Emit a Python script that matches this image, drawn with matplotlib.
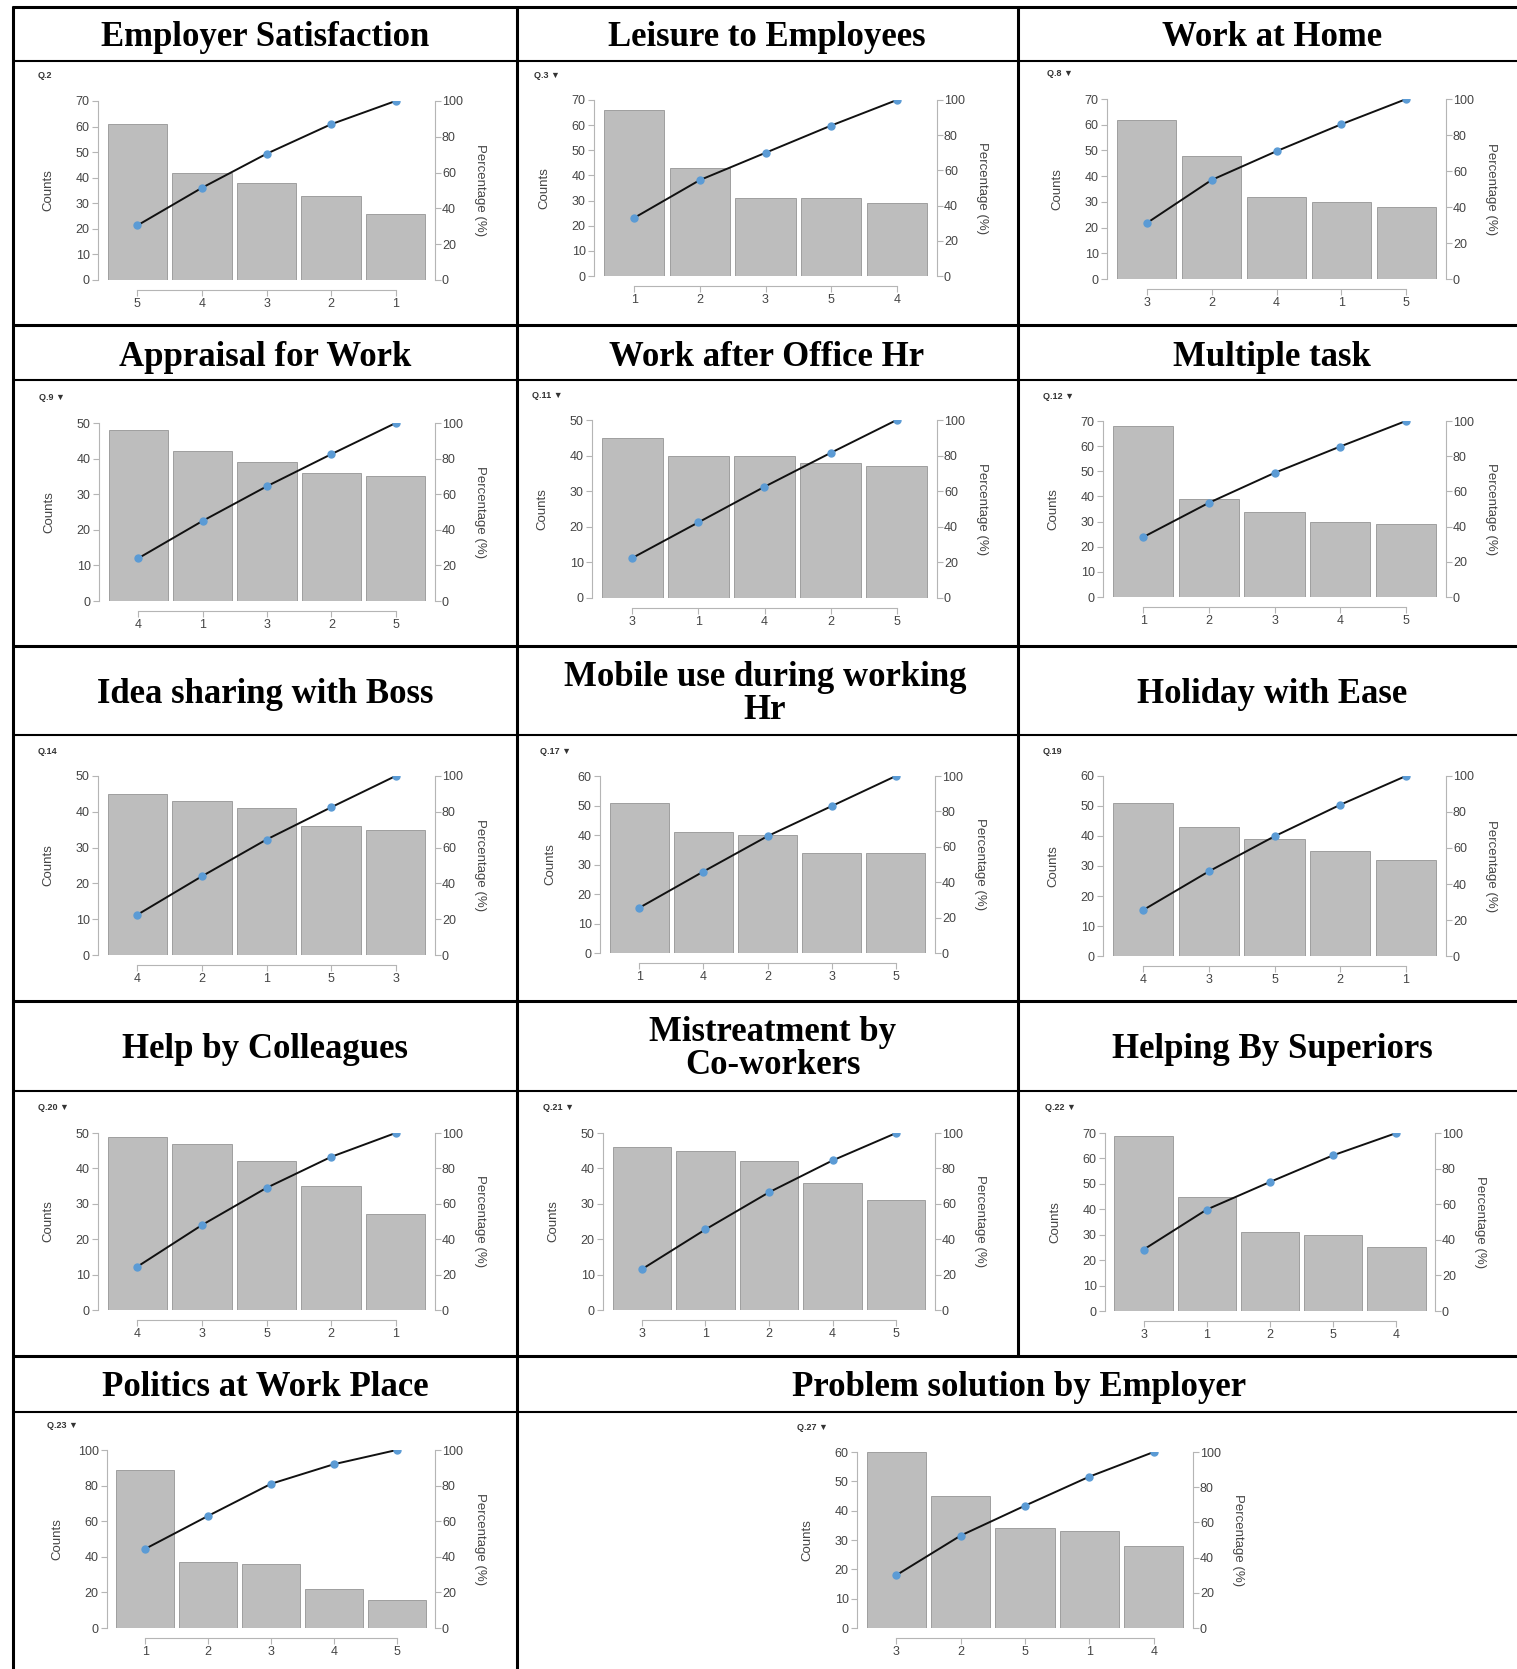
import numpy as np
import matplotlib.pyplot as plt
from matplotlib.lines import Line2D

plt.rcParams['font.family'] = ['Liberation Sans', 'DejaVu Sans']

W, H = 1517, 1669

### survey data: answer order and counts for each question (Pareto order)
titles = ["Employer Satisfaction", "Leisure to Employees", "Work at Home",
          "Appraisal for Work", "Work after Office Hr", "Multiple task",
          "Idea sharing with Boss", "Mobile use during working\nHr", "Holiday with Ease",
          "Help by Colleagues", "Mistreatment by\nCo-workers", "Helping By Superiors",
          "Politics at Work Place", "Problem solution by Employer"]
questions = ["Q.2", "Q.3 \u25bc", "Q.8 \u25bc", "Q.9 \u25bc", "Q.11 \u25bc", "Q.12 \u25bc",
             "Q.14", "Q.17 \u25bc", "Q.19", "Q.20 \u25bc", "Q.21 \u25bc", "Q.22 \u25bc",
             "Q.23 \u25bc", "Q.27 \u25bc"]
answers = [["5", "4", "3", "2", "1"], ["1", "2", "3", "5", "4"], ["3", "2", "4", "1", "5"],
           ["4", "1", "3", "2", "5"], ["3", "1", "4", "2", "5"], ["1", "2", "3", "4", "5"],
           ["4", "2", "1", "5", "3"], ["1", "4", "2", "3", "5"], ["4", "3", "5", "2", "1"],
           ["4", "3", "5", "2", "1"], ["3", "1", "2", "4", "5"], ["3", "1", "2", "5", "4"],
           ["1", "2", "3", "4", "5"], ["3", "2", "5", "1", "4"]]
counts = [[61, 42, 38, 33, 26], [66, 43, 31, 31, 29], [62, 48, 32, 30, 28],
          [48, 42, 39, 36, 35], [45, 40, 40, 38, 37], [68, 39, 34, 30, 29],
          [45, 43, 41, 36, 35], [51, 41, 40, 34, 34], [51, 43, 39, 35, 32],
          [49, 47, 42, 35, 27], [46, 45, 42, 36, 31], [69, 45, 31, 30, 25],
          [89, 37, 36, 22, 16], [60, 45, 34, 33, 28]]
count_max = [70, 70, 70, 50, 50, 70, 50, 60, 60, 50, 50, 70, 100, 60]

### layout in pixels
# plot boxes: left, right, top, zero line
boxes = [(98, 435, 101, 280), (594, 937, 100, 276), (1107, 1446, 99, 279),
         (99, 435, 423, 601), (592, 937, 420, 598), (1103, 1446, 421, 597),
         (98, 435, 776, 955), (600, 935, 776, 953), (1103, 1446, 776, 956),
         (98, 435, 1133, 1310), (603, 935, 1133, 1310), (1105, 1435, 1133, 1311),
         (107, 435, 1450, 1628), (857, 1193, 1452, 1628)]
# title centres
title_xy = [(265, 38), (767, 38), (1272, 38),
            (265, 357), (767, 357), (1272, 357),
            (265, 694), (765, 694), (1272, 694),
            (265, 1049), (773, 1049), (1272, 1049),
            (265, 1388), (1019, 1388)]

fig = plt.figure(figsize=(W / 100, H / 100), dpi=100)
fig.patch.set_facecolor('white')


def fx(x):
    return x / W


def fy(y):
    return 1 - y / H


def hline(y, x0, x1, lw):
    fig.add_artist(Line2D([fx(x0), fx(x1)], [fy(y), fy(y)], transform=fig.transFigure,
                          color='black', lw=lw, solid_capstyle='butt'))


def vline(x, y0, y1, lw):
    fig.add_artist(Line2D([fx(x), fx(x)], [fy(y0), fy(y1)], transform=fig.transFigure,
                          color='black', lw=lw, solid_capstyle='butt'))


# table grid
for y in [7, 325, 646, 1001, 1356]:
    hline(y, 12, W, 2.2)
for y in [61, 380, 735, 1091, 1412]:
    hline(y, 12, W, 1.5)
vline(13, 6, H, 2.2)
vline(517, 6, H, 2.2)
vline(1018, 6, 1356, 2.2)

tick_col = '#444444'
spine_col = '#b5b5b5'

for i in range(len(titles)):
    L, R, T, B = boxes[i]
    ax = fig.add_axes([fx(L), fy(B), (R - L) / W, (B - T) / H])
    x = np.arange(len(answers[i]))
    vals = np.array(counts[i])
    cum = np.cumsum(vals) / vals.sum() * 100

    ax.bar(x, vals, width=0.92, color='#bdbdbd', edgecolor='#959595', linewidth=0.6)
    ax.set_xlim(-0.61, 4.61)
    ax.set_ylim(0, count_max[i])
    ax.set_yticks(np.arange(0, count_max[i] + 1, 20 if count_max[i] == 100 else 10))
    ax.set_xticks(x)
    ax.set_xticklabels(answers[i])
    for s in ['top', 'right']:
        ax.spines[s].set_visible(False)
    ax.spines['bottom'].set_position(('outward', 7.2))
    ax.spines['bottom'].set_bounds(0, 4)
    ax.spines['left'].set_bounds(0, count_max[i])
    for s in ['bottom', 'left']:
        ax.spines[s].set_color(spine_col)
        ax.spines[s].set_linewidth(0.8)
    ax.tick_params(colors=spine_col, labelcolor=tick_col, labelsize=9, length=4, width=0.8, pad=2)

    ax2 = ax.twinx()
    ax2.set_ylim(0, 100)
    ax2.set_yticks(np.arange(0, 101, 20))
    for s in ['top', 'left', 'bottom']:
        ax2.spines[s].set_visible(False)
    ax2.spines['right'].set_bounds(0, 100)
    ax2.spines['right'].set_color(spine_col)
    ax2.spines['right'].set_linewidth(0.8)
    ax2.tick_params(colors=spine_col, labelcolor=tick_col, labelsize=9, length=4, width=0.8, pad=1)
    ax2.plot(x, cum, color='#111111', lw=1.4, marker='o', ms=5,
             mfc='#5b9bd5', mec='#5b9bd5', zorder=3)

    fig.text(fx(L - 50), fy((T + B) / 2), "Counts", rotation=90, ha='center', va='center',
             fontsize=9.5, color=tick_col)
    fig.text(fx(R + 45), fy((T + B) / 2), "Percentage (%)", rotation=270, ha='center',
             va='center', fontsize=9.5, color=tick_col)
    fig.text(fx(L - 60), fy(T - 25), questions[i], ha='left', va='center',
             fontsize=6.5, fontweight='bold', color='#333333')

    tx, ty = title_xy[i]
    fig.text(fx(tx), fy(ty), titles[i], ha='center', va='center', fontsize=25,
             fontweight='bold', family='Liberation Serif', linespacing=1.0)

fig.savefig('out.png', dpi=100, facecolor='white')
